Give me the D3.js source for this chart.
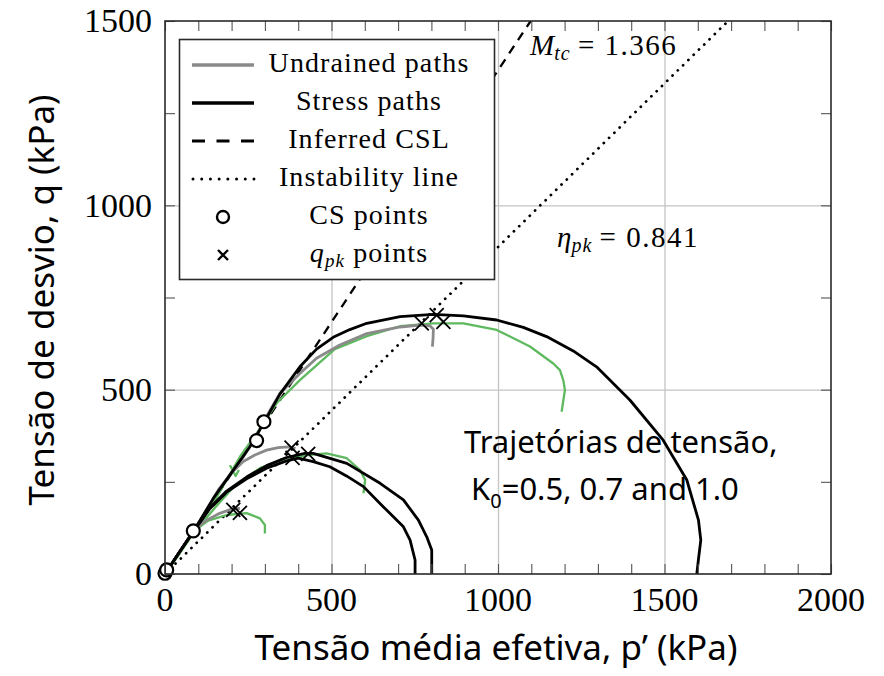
<!DOCTYPE html>
<html>
<head>
<meta charset="utf-8">
<script src="https://cdn.jsdelivr.net/npm/d3@7"></script>
<style>
body { margin: 0; background: #fff; }
svg { display: block; }
</style>
</head>
<body>
<svg></svg>
<script>
// values: [p' (kPa), q (kPa)]
var stressPathA = [[0,0],[40,55],[85,115],[135,178],[185,222],[245,258],[305,287],[365,307],[400,314],[445,305],[495,291],[545,266],[596,237],[656,182],[716,128],[736,92],[751,38],[751,0]];
var stressPathB = [[0,0],[40,55],[85,115],[135,180],[185,225],[245,263],[305,294],[365,316],[420,327],[445,327],[546,300],[646,246],[716,201],[761,146],[786,101],[801,65],[801,0]];
var stressPathC = [[0,0],[40,55],[85,115],[145,205],[200,275],[255,345],[300,415],[345,488],[405,562],[455,610],[505,642],[555,663],[606,680],[706,698],[806,704],[896,700],[996,689],[1076,669],[1146,644],[1226,605],[1296,562],[1396,472],[1496,363],[1567,255],[1602,146],[1609,92],[1602,40],[1597,0]];

var undrainedA = [[85,118],[120,143],[160,163],[200,176],[225,178]];
var undrainedB = [[90,125],[120,165],[160,228],[200,275],[235,305],[270,323],[305,336],[340,343],[370,345],[392,341]];
var undrainedC = [[230,310],[280,385],[316,445],[345,490],[405,544],[455,585],[525,621],[606,652],[706,670],[766,675],[796,673],[806,664],[805,640],[803,617]];

var greenA = [[0,0],[40,55],[85,115],[130,145],[185,160],[245,165],[285,151],[300,133],[300,110]];
var greenB = [[0,0],[40,50],[85,110],[150,180],[210,240],[285,287],[365,314],[435,323],[485,327],[546,314],[586,282],[601,255],[596,219]];
var greenC = [[0,0],[40,55],[85,115],[150,200],[225,318],[275,381],[335,463],[405,526],[510,610],[606,645],[706,672],[806,680],[896,680],[996,662],[1096,617],[1166,571],[1186,553],[1196,526],[1201,499],[1191,440]];
var greenD = [[195,295],[212,266],[222,282]];

var cslLine = [[0,0],[1098,1500]];
var instabilityLine = [[0,0],[1691,1500]];

var csPoints = [[0,2],[5,11],[85,117],[275,362],[297,413]];
var pkPoints = [[205,174],[225,166],[380,343],[383,315],[430,326],[771,680],[816,702],[836,684]];

var xTicks = [0,500,1000,1500,2000];
var yTicks = [0,500,1000,1500];
var xMinor = d3.range(0,2001,100);
var yMinor = d3.range(0,1501,250);
var legendLabels = ['Undrained paths','Stress paths','Inferred CSL','Instability line','CS points','points'];

var green = '#5fb95f', grey = '#8a8a8a';
var serif = '"Liberation Serif", "DejaVu Serif", serif';
var sans = '"Noto Sans", "Open Sans", sans-serif';

var svg = d3.select('svg').attr('width', 884).attr('height', 676);

var x = d3.scaleLinear().domain([0,2000]).range([165,831]);
var y = d3.scaleLinear().domain([0,1500]).range([574,21]);

svg.append('defs').append('clipPath').attr('id','plot')
	.append('rect').attr('x',165).attr('y',21).attr('width',666).attr('height',553);

// grid
var gGrid = svg.append('g');
gGrid.append('g').attr('transform','translate(0,574)')
	.call(d3.axisBottom(x).tickValues([500,1000,1500]).tickSize(-553).tickFormat(''));
gGrid.append('g').attr('transform','translate(165,0)')
	.call(d3.axisLeft(y).tickValues([500,1000]).tickSize(-666).tickFormat(''));
gGrid.selectAll('.domain').remove();
gGrid.selectAll('line').attr('stroke','#c4c4c4').attr('stroke-width',1.3);

var line = d3.line().x(function(d) { return x(d[0]); }).y(function(d) { return y(d[1]); });

var g = svg.append('g').attr('clip-path','url(#plot)');

g.append('path').attr('d', line(instabilityLine))
	.attr('fill','none').attr('stroke','#000').attr('stroke-width',2.8)
	.attr('stroke-linecap','round').attr('stroke-dasharray','0.01,7.4');
g.append('path').attr('d', line(cslLine))
	.attr('fill','none').attr('stroke','#000').attr('stroke-width',2.3)
	.attr('stroke-dasharray','9,7');

[greenA, greenB, greenC, greenD].forEach(function(d) {
	g.append('path').attr('d', line(d)).attr('fill','none')
		.attr('stroke', green).attr('stroke-width',2.3).attr('stroke-linejoin','round');
});
[undrainedA, undrainedB, undrainedC].forEach(function(d) {
	g.append('path').attr('d', line(d)).attr('fill','none')
		.attr('stroke', grey).attr('stroke-width',2.8).attr('stroke-linejoin','round');
});
[stressPathA, stressPathB, stressPathC].forEach(function(d) {
	g.append('path').attr('d', line(d)).attr('fill','none')
		.attr('stroke','#000').attr('stroke-width',2.8).attr('stroke-linejoin','round');
});

svg.append('g').selectAll('path').data(pkPoints).enter().append('path')
	.attr('transform', function(d) { return 'translate(' + x(d[0]) + ',' + y(d[1]) + ')'; })
	.attr('d','M-7,-7L7,7M-7,7L7,-7')
	.attr('stroke','#000').attr('stroke-width',1.8).attr('fill','none');

svg.append('g').selectAll('circle').data(csPoints).enter().append('circle')
	.attr('cx', function(d) { return x(d[0]); })
	.attr('cy', function(d) { return y(d[1]); })
	.attr('r', 6.5).attr('fill','#fff').attr('stroke','#000').attr('stroke-width',2.2);

// ticks on all four sides, pointing inward
var gTicks = svg.append('g');
gTicks.append('g').attr('transform','translate(0,574)')
	.call(d3.axisBottom(x).tickValues(xMinor).tickSizeInner(-10).tickSizeOuter(0).tickFormat(''));
gTicks.append('g').attr('transform','translate(0,21)')
	.call(d3.axisTop(x).tickValues(xMinor).tickSizeInner(-10).tickSizeOuter(0).tickFormat(''));
gTicks.append('g').attr('transform','translate(165,0)')
	.call(d3.axisLeft(y).tickValues(yMinor).tickSizeInner(-10).tickSizeOuter(0).tickFormat(''));
gTicks.append('g').attr('transform','translate(831,0)')
	.call(d3.axisRight(y).tickValues(yMinor).tickSizeInner(-10).tickSizeOuter(0).tickFormat(''));
gTicks.selectAll('.domain').remove();
gTicks.selectAll('line').attr('stroke','#555').attr('stroke-width',1.1);

svg.append('rect').attr('x',165).attr('y',21).attr('width',666).attr('height',553)
	.attr('fill','none').attr('stroke','#2a2a2a').attr('stroke-width',1.6);

// tick labels
svg.append('g').selectAll('text').data(xTicks).enter().append('text')
	.attr('x', function(d) { return x(d); }).attr('y', 611)
	.attr('text-anchor','middle').attr('font-family', serif).attr('font-size',34)
	.text(function(d) { return d; });
svg.append('g').selectAll('text').data(yTicks).enter().append('text')
	.attr('x', 152).attr('y', function(d) { return y(d); }).attr('dy','0.33em')
	.attr('text-anchor','end').attr('font-family', serif).attr('font-size',34)
	.text(function(d) { return d; });

// axis titles
svg.append('text').attr('x',496).attr('y',660).attr('text-anchor','middle')
	.attr('font-family', sans).attr('font-size',35)
	.text('Tensão média efetiva, p’ (kPa)');
svg.append('text').attr('transform','translate(54,300) rotate(-90)').attr('text-anchor','middle')
	.attr('font-family', sans).attr('font-size',35)
	.text('Tensão de desvio, q (kPa)');

// line labels
var mtc = svg.append('text').attr('x',530).attr('y',55).attr('font-family', serif).attr('font-size',29);
mtc.append('tspan').attr('font-style','italic').text('M');
mtc.append('tspan').attr('font-style','italic').attr('font-size',20).attr('dy',5).attr('letter-spacing',1).text('tc');
mtc.append('tspan').attr('dy',-5).attr('letter-spacing',1.5).text('\u2009= 1.366');

var eta = svg.append('text').attr('x',557).attr('y',247).attr('font-family', serif).attr('font-size',29);
eta.append('tspan').attr('font-style','italic').text('η');
eta.append('tspan').attr('font-style','italic').attr('font-size',20).attr('dy',5).attr('letter-spacing',1).text('pk');
eta.append('tspan').attr('dy',-5).attr('letter-spacing',1.5).text('\u2009= 0.841');

// annotation
svg.append('text').attr('x',464).attr('y',453).attr('font-family', sans).attr('font-size',31)
	.text('Trajetórias de tensão,');
var k0 = svg.append('text').attr('x',471).attr('y',500).attr('font-family', sans).attr('font-size',31);
k0.append('tspan').text('K');
k0.append('tspan').attr('font-size',20).attr('dy',8).text('0');
k0.append('tspan').attr('dy',-8).text('=0.5, 0.7 and 1.0');

// legend
var gLegend = svg.append('g');
gLegend.append('rect').attr('x',179.5).attr('y',39.5).attr('width',315).attr('height',240)
	.attr('fill','#fff').attr('stroke','#2a2a2a').attr('stroke-width',1.6);

var rowY = function(i) { return 65 + i * 38; };
var rows = gLegend.selectAll('g').data(legendLabels).enter().append('g')
	.attr('transform', function(d, i) { return 'translate(0,' + rowY(i) + ')'; });

rows.each(function(d, i) {
	var r = d3.select(this);
	if (i === 0) r.append('line').attr('x1',192).attr('x2',254).attr('stroke',grey).attr('stroke-width',3.4);
	if (i === 1) r.append('line').attr('x1',192).attr('x2',254).attr('stroke','#000').attr('stroke-width',3.4);
	if (i === 2) r.append('line').attr('x1',192).attr('x2',254).attr('stroke','#000').attr('stroke-width',3)
		.attr('stroke-dasharray','13,11.5');
	if (i === 3) r.append('line').attr('x1',193).attr('x2',254).attr('stroke','#000').attr('stroke-width',3)
		.attr('stroke-linecap','round').attr('stroke-dasharray','0.01,8.7');
	if (i === 4) r.append('circle').attr('cx',223).attr('cy',0).attr('r',6).attr('fill','#fff')
		.attr('stroke','#000').attr('stroke-width',2.4);
	if (i === 5) r.append('path').attr('d','M218,-5L228,5M218,5L228,-5').attr('stroke','#000').attr('stroke-width',2.4);

	var t = r.append('text').attr('x',369).attr('y',7).attr('text-anchor','middle')
		.attr('font-family', serif).attr('font-size',28).attr('letter-spacing',1.1);
	if (i === 5) {
		t.append('tspan').attr('font-style','italic').text('q');
		t.append('tspan').attr('font-style','italic').attr('font-size',19).attr('dy',5).text('pk');
		t.append('tspan').attr('dy',-5).text(' ' + d);
	} else {
		t.text(d);
	}
});
</script>
</body>
</html>
